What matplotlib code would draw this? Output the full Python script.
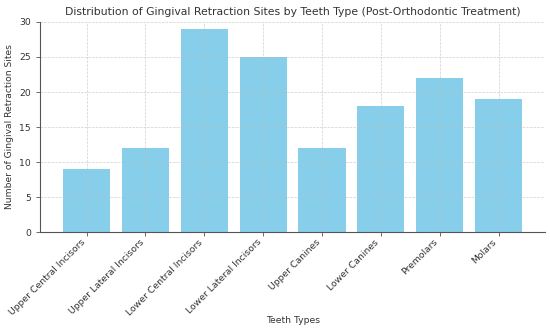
import matplotlib
matplotlib.use("Agg")
import matplotlib.pyplot as plt

TEETH = ["Upper Central Incisors", "Upper Lateral Incisors", "Lower Central Incisors",
         "Lower Lateral Incisors", "Upper Canines", "Lower Canines", "Premolars", "Molars"]
SITES = [9, 12, 29, 25, 12, 18, 22, 19]

TXT = "#333333"

fig, ax = plt.subplots(figsize=(5.5, 3.33), dpi=100)
fig.subplots_adjust(left=0.073, right=0.991, top=0.934, bottom=0.303)

ax.bar(TEETH, SITES, color="skyblue", width=0.8)

ax.set_title("Distribution of Gingival Retraction Sites by Teeth Type (Post-Orthodontic Treatment)",
             fontsize=7.8, color=TXT, pad=5)
ax.set_xlabel("Teeth Types", fontsize=6.7, color=TXT)
ax.xaxis.set_label_coords(0.5, -0.40)
ax.set_ylabel("Number of Gingival Retraction Sites", fontsize=6.6, color=TXT, labelpad=4)
ax.set_ylim(0, 30)
ax.set_yticks(range(0, 31, 5))
plt.setp(ax.get_xticklabels(), rotation=45, ha="right")
ax.tick_params(labelsize=6.7, colors=TXT, length=3, width=0.6)
ax.tick_params(axis="x", pad=1)
ax.tick_params(axis="both", color="#555555")

ax.grid(True, linestyle="--", linewidth=0.5, color="#bbbbbb", alpha=0.7)
for s in ["top", "right"]:
    ax.spines[s].set_visible(False)
for s in ["left", "bottom"]:
    ax.spines[s].set_color("#555555")
    ax.spines[s].set_linewidth(0.8)

fig.savefig("out.png", dpi=100)
